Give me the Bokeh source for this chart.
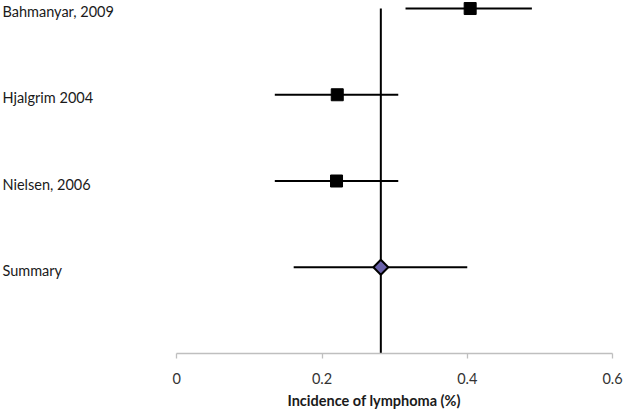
import math
from bokeh.plotting import figure
from bokeh.models import Range1d, FixedTicker, ColumnDataSource, Title
from bokeh.core.properties import value
from bokeh.embed import file_html
from bokeh.resources import INLINE

# ---- data ----
studies = ["Bahmanyar, 2009", "Hjalgrim 2004", "Nielsen, 2006"]
study_est = [0.404, 0.221, 0.220]
study_lo = [0.315, 0.135, 0.135]
study_hi = [0.489, 0.305, 0.305]

summary_name = "Summary"
summary_est = 0.281
summary_lo = 0.161
summary_hi = 0.400

x_ticks = [0, 0.2, 0.4, 0.6]
x_tick_labels = ["0", "0.2", "0.4", "0.6"]
x_title = "Incidence of lymphoma (%)"

# ---- layout rows (top to bottom) ----
names = studies + [summary_name]
n = len(names)
rows = [n - i for i in range(n)]
study_rows = rows[:len(studies)]
sum_row = rows[-1]

FONT = "Lato"
TXT = "#1a1a1a"
X_START = -0.2427   # left edge of the canvas in data units
LABEL_X = -0.24

p = figure(frame_width=612, frame_height=353,
           x_range=Range1d(X_START, 0.6), y_range=Range1d(0, 4.093),
           output_backend="svg", toolbar_location=None,
           min_border_left=0, min_border_right=12,
           min_border_top=0, min_border_bottom=0)
p.outline_line_color = None
p.xgrid.visible = False
p.ygrid.visible = False
p.yaxis.visible = False
p.background_fill_color = "white"
p.border_fill_color = "white"

xa = p.xaxis[0]
xa.bounds = (x_ticks[0], x_ticks[-1])
xa.ticker = FixedTicker(ticks=x_ticks)
xa.major_label_overrides = dict(zip(x_ticks, x_tick_labels))
xa.axis_line_color = "#bfbfbf"
xa.axis_line_width = 1.3
xa.major_tick_line_color = "#bfbfbf"
xa.major_tick_line_width = 1.3
xa.major_tick_in = 0
xa.major_tick_out = 5
xa.minor_tick_line_color = None
xa.major_label_text_font = FONT
xa.major_label_text_font_size = "14.5px"
xa.major_label_text_color = "#333333"
xa.major_label_standoff = 14

# axis title (placed below axis, left-offset to match reference)
p.add_layout(Title(text=x_title, align="left", offset=287, standoff=6,
                   text_font=FONT, text_font_style="bold", text_font_size="14.5px",
                   text_color=TXT), "below")

# summary reference line
p.segment(x0=[summary_est], y0=[0], x1=[summary_est], y1=[rows[0]],
          line_color="black", line_width=2)

# study CIs and points
src = ColumnDataSource(dict(est=study_est, lo=study_lo, hi=study_hi, row=study_rows))
p.segment(x0="lo", y0="row", x1="hi", y1="row", source=src,
          line_color="black", line_width=2)
p.scatter(x="est", y="row", source=src, marker="square", size=12,
          fill_color="black", line_color="black")

# summary CI and diamond
p.segment(x0=[summary_lo], y0=[sum_row], x1=[summary_hi], y1=[sum_row],
          line_color="black", line_width=2)
p.scatter(x=[summary_est], y=[sum_row], marker="square", angle=math.pi / 4,
          size=10.5, fill_color="#6A62AA", line_color="black", line_width=2)

# row labels
lab_src = ColumnDataSource(dict(name=names, row=rows))
p.text(x=LABEL_X, y="row", text="name", source=lab_src,
       text_font=value(FONT), text_font_size="14.5px", text_color=TXT,
       text_align="left", text_baseline="middle", y_offset=3)

open("out.html", "w").write(file_html(p, INLINE))
